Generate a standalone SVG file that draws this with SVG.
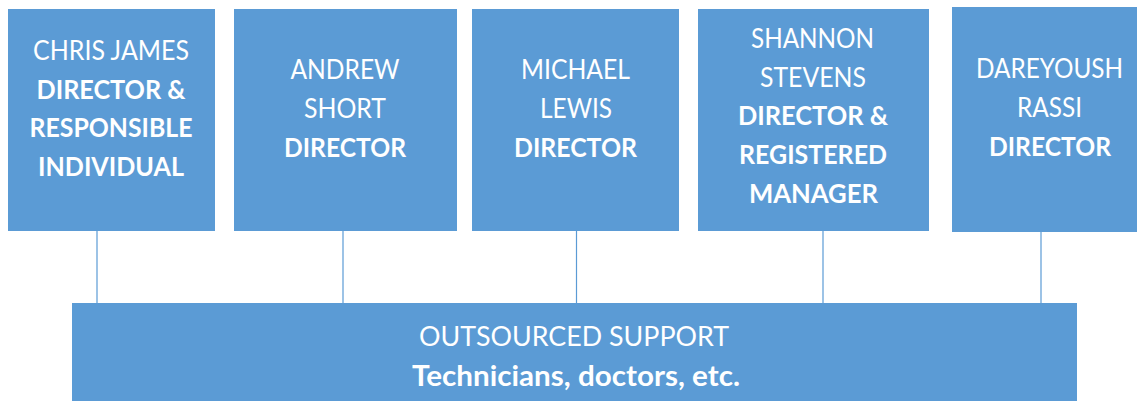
<svg xmlns="http://www.w3.org/2000/svg" width="1137" height="401" viewBox="0 0 1137 401">
<style>
.box{fill:#5B9BD5;}
.t{font-family:Lato,"Liberation Sans",sans-serif;font-size:26px;fill:#FFFFFF;text-anchor:middle;}
.b{font-weight:bold;}
.c{stroke:#5B9BD5;stroke-width:1.2;fill:none;}
</style>
<rect width="1137" height="401" fill="#FFFFFF"/>
<g id="connectors">
<line class="c" x1="97" y1="231" x2="97" y2="303"/>
<line class="c" x1="343" y1="231" x2="343" y2="303"/>
<line class="c" x1="576.5" y1="231" x2="576.5" y2="303"/>
<line class="c" x1="823" y1="231" x2="823" y2="303"/>
<line class="c" x1="1041" y1="232" x2="1041" y2="303"/>
</g>
<g id="chris">
<rect class="box" x="8" y="9" width="207" height="222"/>
<text class="t" x="111" y="60" textLength="156" lengthAdjust="spacingAndGlyphs">CHRIS JAMES</text>
<text class="t b" x="111" y="99" textLength="149" lengthAdjust="spacingAndGlyphs">DIRECTOR &amp;</text>
<text class="t b" x="111" y="137" textLength="163" lengthAdjust="spacingAndGlyphs">RESPONSIBLE</text>
<text class="t b" x="111" y="176" textLength="146" lengthAdjust="spacingAndGlyphs">INDIVIDUAL</text>
</g>
<g id="andrew">
<rect class="box" x="234" y="9" width="223" height="222"/>
<text class="t" x="345" y="79" textLength="109" lengthAdjust="spacingAndGlyphs">ANDREW</text>
<text class="t" x="345" y="118" textLength="82" lengthAdjust="spacingAndGlyphs">SHORT</text>
<text class="t b" x="345" y="157" textLength="122" lengthAdjust="spacingAndGlyphs">DIRECTOR</text>
</g>
<g id="michael">
<rect class="box" x="472" y="9" width="207" height="222"/>
<text class="t" x="575.5" y="79" textLength="109" lengthAdjust="spacingAndGlyphs">MICHAEL</text>
<text class="t" x="576" y="118" textLength="72" lengthAdjust="spacingAndGlyphs">LEWIS</text>
<text class="t b" x="575.5" y="157" textLength="123" lengthAdjust="spacingAndGlyphs">DIRECTOR</text>
</g>
<g id="shannon">
<rect class="box" x="698" y="9" width="231" height="222"/>
<text class="t" x="812.5" y="48" textLength="123" lengthAdjust="spacingAndGlyphs">SHANNON</text>
<text class="t" x="813" y="87" textLength="106" lengthAdjust="spacingAndGlyphs">STEVENS</text>
<text class="t b" x="813" y="125" textLength="150" lengthAdjust="spacingAndGlyphs">DIRECTOR &amp;</text>
<text class="t b" x="813" y="164" textLength="148" lengthAdjust="spacingAndGlyphs">REGISTERED</text>
<text class="t b" x="813.5" y="203" textLength="129" lengthAdjust="spacingAndGlyphs">MANAGER</text>
</g>
<g id="dareyoush">
<rect class="box" x="952" y="7" width="185" height="225"/>
<text class="t" x="1049.5" y="78" textLength="147" lengthAdjust="spacingAndGlyphs">DAREYOUSH</text>
<text class="t" x="1049.5" y="117" textLength="65" lengthAdjust="spacingAndGlyphs">RASSI</text>
<text class="t b" x="1050" y="156" textLength="122" lengthAdjust="spacingAndGlyphs">DIRECTOR</text>
</g>
<g id="outsourced">
<rect class="box" x="72" y="303" width="1005" height="98"/>
<text class="t" x="574" y="346" style="font-size:27px" textLength="310" lengthAdjust="spacingAndGlyphs">OUTSOURCED SUPPORT</text>
<text class="t b" x="576" y="386" style="font-size:28.5px" textLength="328" lengthAdjust="spacingAndGlyphs">Technicians, doctors, etc.</text>
</g>
</svg>
